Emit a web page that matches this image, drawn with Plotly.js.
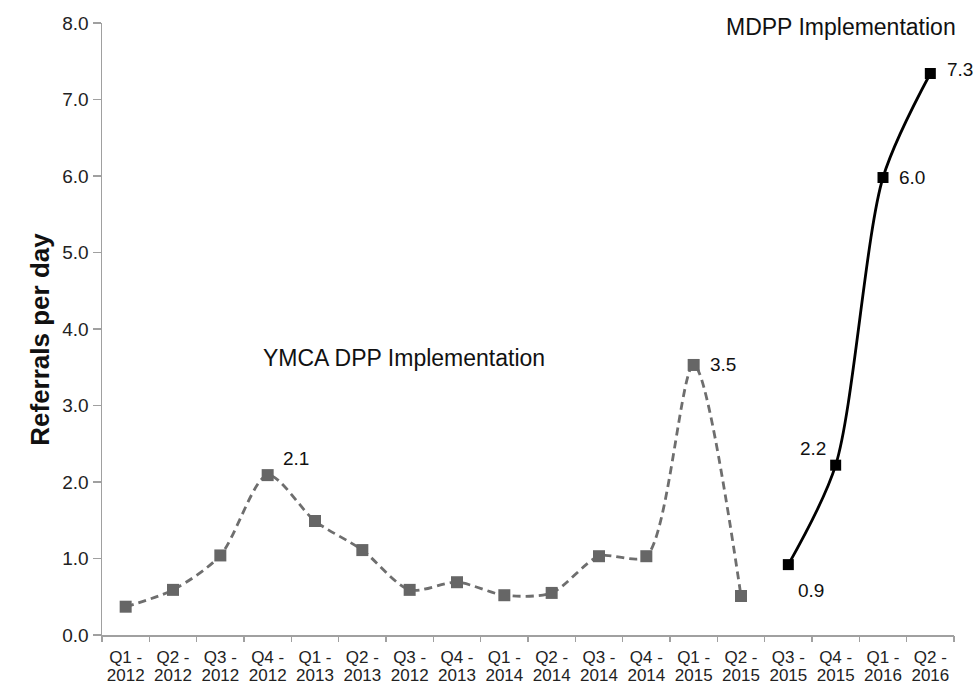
<!DOCTYPE html>
<html>
<head>
<meta charset="utf-8">
<script src="https://cdn.plot.ly/plotly-3.0.1.min.js"></script>
<style>html,body{margin:0;padding:0;background:#fff;}#chart{width:977px;height:686px;}</style>
</head>
<body>
<div id="chart"></div>
<script>
const quarterNames = ["Q1 -","Q2 -","Q3 -","Q4 -","Q1 -","Q2 -","Q3 -","Q4 -","Q1 -","Q2 -","Q3 -","Q4 -","Q1 -","Q2 -","Q3 -","Q4 -","Q1 -","Q2 -"];
const quarterYears = ["2012","2012","2012","2012","2013","2013","2012","2013","2014","2014","2014","2014","2015","2015","2015","2015","2016","2016"];
const ymcaValues = [0.37,0.59,1.04,2.09,1.49,1.11,0.59,0.69,0.52,0.55,1.03,1.03,3.53,0.51];
const mdppValues = [0.92,2.22,5.98,7.34];
const yTicks = [0,1,2,3,4,5,6,7,8];
const mdppStart = ymcaValues.length;

const ymcaX = ymcaValues.map((v,i)=>i);
const mdppX = mdppValues.map((v,i)=>i+mdppStart);
const allX = quarterNames.map((q,i)=>i);
const bounds = quarterNames.map((q,i)=>i-0.5).concat([quarterNames.length-0.5]);
const xr = [-0.5, quarterNames.length-0.5];

const font = "Liberation Sans, Arial, sans-serif";

const traces = [
  {x: ymcaX, y: ymcaValues, type:'scatter', mode:'lines+markers',
   line:{shape:'spline', smoothing:0.8, color:'#6e6e6e', width:2.8, dash:'8px,5px'},
   marker:{symbol:'square', size:12, color:'#666666'}, hoverinfo:'y', showlegend:false},
  {x: mdppX, y: mdppValues, type:'scatter', mode:'lines+markers',
   line:{shape:'spline', smoothing:0.8, color:'#000', width:2.8},
   marker:{symbol:'square', size:11, color:'#000'}, hoverinfo:'y', showlegend:false},
  {x: xr, y:[0,0], xaxis:'x2', type:'scatter', mode:'none', hoverinfo:'skip', showlegend:false},
  {x: xr, y:[0,0], xaxis:'x3', type:'scatter', mode:'none', hoverinfo:'skip', showlegend:false}
];

const ann = (x,y,text,xs,ys)=>({x:x,y:y,text:text,showarrow:false,xref:'x',yref:'y',xshift:xs,yshift:ys,font:{family:font,size:19,color:'#111'}});

const layout = {
  width:977, height:686,
  margin:{l:102, r:23, t:23, b:51},
  paper_bgcolor:'#fff', plot_bgcolor:'#fff',
  font:{family:font, color:'#222'},
  xaxis:{range:xr, tickvals:allX, ticktext:quarterNames, ticks:'', ticklabelstandoff:6,
         showgrid:false, zeroline:false, showline:true, linecolor:'#a0a0a0', linewidth:1.5,
         tickfont:{family:font, size:17, color:'#222'}, fixedrange:true},
  xaxis2:{overlaying:'x', anchor:'y', side:'bottom', range:xr, tickvals:bounds, showticklabels:false,
          ticks:'outside', ticklen:6, tickcolor:'#a0a0a0', tickwidth:1.5, showgrid:false, zeroline:false, showline:false},
  xaxis3:{overlaying:'x', anchor:'y', side:'bottom', range:xr, tickvals:allX, ticktext:quarterYears, ticks:'',
          ticklabelstandoff:28, showgrid:false, zeroline:false, showline:false,
          tickfont:{family:font, size:17, color:'#222'}},
  yaxis:{range:[0,8], tickvals:yTicks, ticktext:yTicks.map(v=>v.toFixed(1)),
         ticks:'outside', ticklen:8, tickcolor:'#a0a0a0', tickwidth:1.5,
         showgrid:false, zeroline:false, showline:true, linecolor:'#a0a0a0', linewidth:1.5,
         tickfont:{family:font, size:19, color:'#222'}},
  annotations:[
    {x:-0.093, y:0.4837, xref:'paper', yref:'paper', text:'<b>Referrals per day</b>', textangle:-90, showarrow:false,
     font:{family:font, size:26, color:'#111'}},
    ann(3, ymcaValues[3], ymcaValues[3].toFixed(1), 28, 17),
    ann(12, ymcaValues[12], ymcaValues[12].toFixed(1), 29, 0),
    ann(14, mdppValues[0], mdppValues[0].toFixed(1), 23, -26),
    ann(15, mdppValues[1], mdppValues[1].toFixed(1), -23, 17),
    ann(16, mdppValues[2], mdppValues[2].toFixed(1), 29, 0),
    ann(17, mdppValues[3], mdppValues[3].toFixed(1), 30, 4),
    {x:5.88, y:(635-358)/76.5, xref:'x', yref:'y', text:'YMCA DPP Implementation', showarrow:false, font:{family:font, size:23, color:'#111'}},
    {x:15.11, y:(635-27)/76.5, xref:'x', yref:'y', text:'MDPP Implementation', showarrow:false, font:{family:font, size:23, color:'#111'}}
  ]
};
Plotly.newPlot('chart', traces, layout, {displayModeBar:false, staticPlot:true});
</script>
</body>
</html>
